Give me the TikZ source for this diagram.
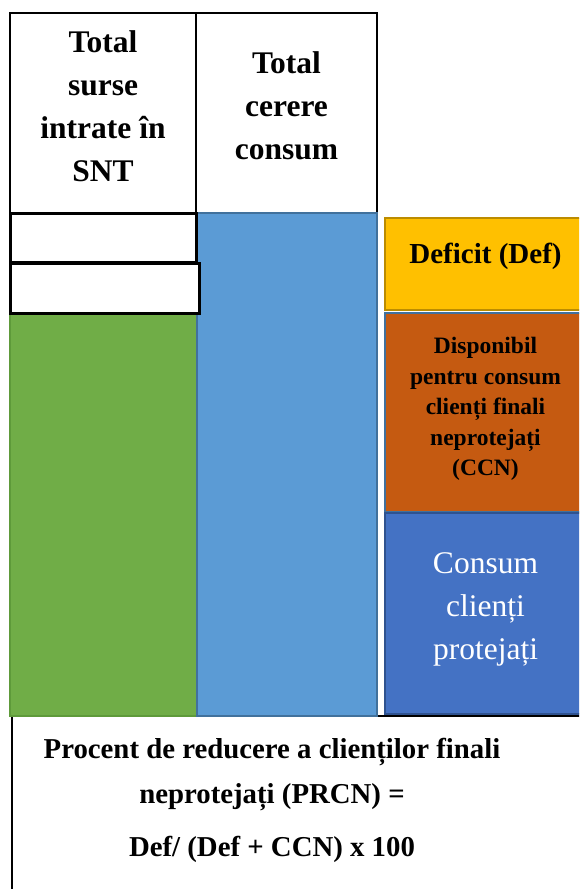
\documentclass[tikz,border=0pt]{standalone}
\usepackage{fontspec}
\setmainfont{Liberation Serif}
\usetikzlibrary{positioning}

\definecolor{sursegreen}{HTML}{70AD47}
\definecolor{surseline}{HTML}{5E9A3A}
\definecolor{cererblue}{HTML}{5B9BD5}
\definecolor{cererline}{HTML}{41719C}
\definecolor{defyellow}{HTML}{FFC000}
\definecolor{defline}{HTML}{BC8C00}
\definecolor{ccnorange}{HTML}{C55A11}
\definecolor{protblue}{HTML}{4472C4}
\definecolor{protline}{HTML}{2F528F}

% extra depth on a last line, lifts the text a little in its box
\newcommand{\liftup}[1]{\rule[-#1]{0pt}{0pt}}

\begin{document}
\begin{tikzpicture}[
            x = 1pt, y = -1pt, % pixel-like coordinates, y going down
            every node/.style = {inner sep = 0pt, outer sep = 0pt, anchor = north west},
            head/.style = {
                draw = black,
                line width = 2.5pt,
                fill = white,
                align = center,
                font = \bfseries\fontsize{31.5}{43}\selectfont
            },
            gap/.style = {draw = black, line width = 3pt, fill = white},
            column/.style = {line width = 2pt},
            side/.style = {line width = 2pt, align = center, minimum width = 201pt},
        ]

        \clip (0,0) rectangle (579,889);
        \fill[white] (0,0) rectangle (579,889);

        % frame of the formula, mostly hidden behind the columns
        \node[draw = black, line width = 2pt, minimum width = 620pt, minimum height = 220pt] (baza) at (12,716) {};

        % header boxes
        \node[head, minimum width = 186pt, minimum height = 200pt] (surse) at (10,13) {Total\\ surse\\ intrate în\\ SNT\liftup{13pt}};
        \node[head, minimum width = 181pt, minimum height = 200pt] (cerere) at (196,13) {Total\\ cerere\\ consum\liftup{14pt}};

        % columns
        \node[column, draw = surseline, fill = sursegreen, minimum width = 187pt, minimum height = 403pt] (intrari) at (10,313) {};
        \node[column, draw = cererline, fill = cererblue, minimum width = 180pt, minimum height = 503pt] (cerereconsum) at (197,213) {};

        % empty boxes under the sources
        \node[gap, minimum width = 186pt, minimum height = 49pt] (gol1) at (10,213) {};
        \node[gap, minimum width = 189pt, minimum height = 50pt] (gol2) at (10,263) {};

        % right hand side split
        \node[side, draw = defline, fill = defyellow, minimum height = 92pt,
              font = \bfseries\fontsize{29}{34}\selectfont] (def) at (385,218) {Deficit (Def)\liftup{22pt}};
        \node[side, draw = cererline, fill = ccnorange, minimum height = 199pt,
              font = \bfseries\fontsize{23.5}{30.5}\selectfont] (ccn) at (385,313)
              {Disponibil\\ pentru consum\\ clienți finali\\ neprotejați\\ (CCN)\liftup{12pt}};
        \node[side, draw = protline, fill = protblue, minimum height = 201pt, text = white,
              font = \fontsize{31.5}{43}\selectfont] (prot) at (385,513)
              {Consum\\ clienți\\ protejați\liftup{14pt}};

        % formula
        \node[anchor = north, align = center, font = \bfseries\fontsize{28.8}{45}\selectfont] (prcn) at (272,738)
              {Procent de reducere a clienților finali\\ neprotejați (PRCN) =\\[8pt] Def/ (Def + CCN) x 100};
    \end{tikzpicture}
\end{document}
